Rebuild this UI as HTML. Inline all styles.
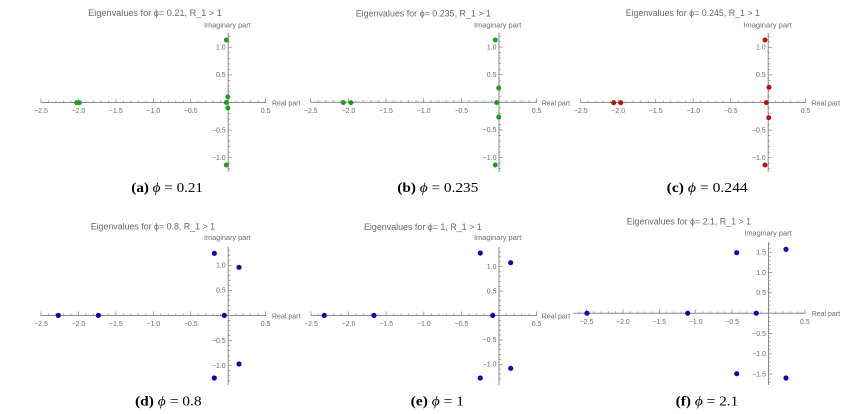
<!DOCTYPE html>
<html><head><meta charset="utf-8"><style>
html,body{margin:0;padding:0;background:#fff;}
svg{display:block;}
.ax{stroke:#8a8a8a;stroke-width:1;fill:none;}
.tk{stroke:#8a8a8a;fill:none;}
.lb{font-family:"Liberation Sans",sans-serif;font-size:7px;fill:#6a6a6a;}
.tt{font-family:"Liberation Sans","DejaVu Sans",sans-serif;font-size:9px;fill:#666;}
.cap{font-family:"Liberation Serif","DejaVu Serif",serif;font-size:14px;fill:#000;}
.g{fill:#1f9a22;} .r{fill:#b31212;} .b{fill:#0a0c9e;}
</style></head><body>
<svg width="851" height="414" viewBox="0 0 851 414" xmlns="http://www.w3.org/2000/svg">

<!-- Panel a -->
<path class="ax" d="M40.95,102.5H266M228.2,33V172"/>
<line class="tk" x1="40.6" y1="101.5" x2="266.3" y2="101.5" stroke-width="2" stroke-dasharray="0.7 6.79"/>
<line class="tk" x1="40.6" y1="100.5" x2="266.3" y2="100.5" stroke-width="4" stroke-dasharray="0.7 36.75"/>
<line class="tk" x1="229.2" y1="35.9" x2="229.2" y2="169.5" stroke-width="2" stroke-dasharray="0.7 4.82"/>
<line class="tk" x1="230.2" y1="46.95" x2="230.2" y2="158.5" stroke-width="4" stroke-dasharray="0.7 26.9"/>
<g class="lb" text-anchor="middle">
<text x="40.95" y="113.2">−2.5</text><text x="78.4" y="113.2">−2.0</text><text x="115.85" y="113.2">−1.5</text><text x="153.3" y="113.2">−1.0</text><text x="190.75" y="113.2">−0.5</text><text x="265.65" y="113.2">0.5</text>
</g>
<g class="lb" text-anchor="end">
<text x="225.7" y="49.6">1.0</text><text x="225.7" y="77.2">0.5</text><text x="225.7" y="132.4">−0.5</text><text x="225.7" y="160">−1.0</text>
</g>
<text class="lb" x="272" y="105.5">Real part</text>
<text class="lb" x="204" y="27.5" textLength="46.7" lengthAdjust="spacingAndGlyphs">Imaginary part</text>
<text class="tt" x="88.2" y="16.2" textLength="133.7" lengthAdjust="spacingAndGlyphs">Eigenvalues for ϕ= 0.21, R_1 &gt; 1</text>
<g class="g"><circle cx="76.7" cy="102.7" r="2.5"/><circle cx="79.3" cy="102.7" r="2.5"/><circle cx="226.3" cy="40" r="2.5"/><circle cx="227.8" cy="96.9" r="2.5"/><circle cx="226.3" cy="102.5" r="2.5"/><circle cx="227.8" cy="108" r="2.5"/><circle cx="226.3" cy="165" r="2.5"/></g>
<text class="cap" x="131.3" y="192.2" textLength="71.7" lengthAdjust="spacingAndGlyphs"><tspan font-weight="bold">(a)</tspan> <tspan font-style="italic">ϕ</tspan> = 0.21</text>

<!-- Panel b -->
<path class="ax" d="M310.67,102.3H537M499,33V172"/>
<line class="tk" x1="310.3" y1="101.3" x2="537.2" y2="101.3" stroke-width="2" stroke-dasharray="0.7 6.83"/>
<line class="tk" x1="310.3" y1="100.3" x2="537.2" y2="100.3" stroke-width="4" stroke-dasharray="0.7 36.97"/>
<line class="tk" x1="500" y1="35.7" x2="500" y2="169.3" stroke-width="2" stroke-dasharray="0.7 4.82"/>
<line class="tk" x1="501" y1="46.75" x2="501" y2="158.3" stroke-width="4" stroke-dasharray="0.7 26.9"/>
<g class="lb" text-anchor="middle">
<text x="310.67" y="113">−2.5</text><text x="348.34" y="113">−2.0</text><text x="386" y="113">−1.5</text><text x="423.67" y="113">−1.0</text><text x="461.3" y="113">−0.5</text><text x="536.67" y="113">0.5</text>
</g>
<g class="lb" text-anchor="end">
<text x="496.5" y="49.4">1.0</text><text x="496.5" y="77">0.5</text><text x="496.5" y="132.2">−0.5</text><text x="496.5" y="159.8">−1.0</text>
</g>
<text class="lb" x="541.7" y="105.3">Real part</text>
<text class="lb" x="474" y="27.5" textLength="47.3" lengthAdjust="spacingAndGlyphs">Imaginary part</text>
<text class="tt" x="355.7" y="16.4" textLength="135.3" lengthAdjust="spacingAndGlyphs">Eigenvalues for ϕ= 0.235, R_1 &gt; 1</text>
<g class="g"><circle cx="343.3" cy="102.6" r="2.5"/><circle cx="351" cy="102.6" r="2.5"/><circle cx="495.3" cy="40" r="2.5"/><circle cx="498.7" cy="88" r="2.5"/><circle cx="496.7" cy="102.6" r="2.5"/><circle cx="498.7" cy="117" r="2.5"/><circle cx="495.3" cy="165" r="2.5"/></g>
<text class="cap" x="397.3" y="192" textLength="81" lengthAdjust="spacingAndGlyphs"><tspan font-weight="bold">(b)</tspan> <tspan font-style="italic">ϕ</tspan> = 0.235</text>

<!-- Panel c -->
<path class="ax" d="M580.7,102.5H806M768.2,33V172"/>
<line class="tk" x1="580.35" y1="101.5" x2="806.2" y2="101.5" stroke-width="2" stroke-dasharray="0.7 6.8"/>
<line class="tk" x1="580.35" y1="100.5" x2="806.2" y2="100.5" stroke-width="4" stroke-dasharray="0.7 36.8"/>
<line class="tk" x1="769.2" y1="35.9" x2="769.2" y2="169.5" stroke-width="2" stroke-dasharray="0.7 4.82"/>
<line class="tk" x1="770.2" y1="46.95" x2="770.2" y2="158.5" stroke-width="4" stroke-dasharray="0.7 26.9"/>
<g class="lb" text-anchor="middle">
<text x="580.7" y="113.2">−2.5</text><text x="618.2" y="113.2">−2.0</text><text x="655.7" y="113.2">−1.5</text><text x="693.2" y="113.2">−1.0</text><text x="730.7" y="113.2">−0.5</text><text x="805.7" y="113.2">0.5</text>
</g>
<g class="lb" text-anchor="end">
<text x="765.7" y="49.6">1.0</text><text x="765.7" y="77.2">0.5</text><text x="765.7" y="132.4">−0.5</text><text x="765.7" y="160">−1.0</text>
</g>
<text class="lb" x="811.7" y="105.5">Real part</text>
<text class="lb" x="743.3" y="27.5" textLength="48.4" lengthAdjust="spacingAndGlyphs">Imaginary part</text>
<text class="tt" x="625.7" y="16.2" textLength="134.3" lengthAdjust="spacingAndGlyphs">Eigenvalues for ϕ= 0.245, R_1 &gt; 1</text>
<g class="r"><circle cx="613.7" cy="102.7" r="2.5"/><circle cx="620.7" cy="102.7" r="2.5"/><circle cx="765" cy="40" r="2.5"/><circle cx="769" cy="87.3" r="2.5"/><circle cx="766.3" cy="102.6" r="2.5"/><circle cx="768.7" cy="117.7" r="2.5"/><circle cx="765" cy="165" r="2.5"/></g>
<text class="cap" x="666.7" y="192" textLength="81" lengthAdjust="spacingAndGlyphs"><tspan font-weight="bold">(c)</tspan> <tspan font-style="italic">ϕ</tspan> = 0.244</text>

<!-- Panel d -->
<path class="ax" d="M40.95,315.5H266M228.2,246.7V385"/>
<line class="tk" x1="40.6" y1="314.5" x2="266.3" y2="314.5" stroke-width="2" stroke-dasharray="0.7 6.79"/>
<line class="tk" x1="40.6" y1="313.5" x2="266.3" y2="313.5" stroke-width="4" stroke-dasharray="0.7 36.75"/>
<line class="tk" x1="229.2" y1="249.9" x2="229.2" y2="381.2" stroke-width="2" stroke-dasharray="0.7 4.32"/>
<line class="tk" x1="230.2" y1="264.95" x2="230.2" y2="366.2" stroke-width="4" stroke-dasharray="0.7 24.4"/>
<g class="lb" text-anchor="middle">
<text x="40.95" y="326.2">−2.5</text><text x="78.4" y="326.2">−2.0</text><text x="115.85" y="326.2">−1.5</text><text x="153.3" y="326.2">−1.0</text><text x="190.75" y="326.2">−0.5</text><text x="265.65" y="326.2">0.5</text>
</g>
<g class="lb" text-anchor="end">
<text x="225.7" y="267.6">1.0</text><text x="225.7" y="292.7">0.5</text><text x="225.7" y="342.9">−0.5</text><text x="225.7" y="368">−1.0</text>
</g>
<text class="lb" x="272" y="318.6">Real part</text>
<text class="lb" x="204" y="240.2" textLength="46.7" lengthAdjust="spacingAndGlyphs">Imaginary part</text>
<text class="tt" x="90.7" y="229.4" textLength="124.3" lengthAdjust="spacingAndGlyphs">Eigenvalues for ϕ= 0.8, R_1 &gt; 1</text>
<g class="b"><circle cx="214.3" cy="253.3" r="2.6"/><circle cx="239" cy="267.3" r="2.6"/><circle cx="58.3" cy="315.4" r="2.6"/><circle cx="98.3" cy="315.4" r="2.6"/><circle cx="224.3" cy="315.4" r="2.6"/><circle cx="239" cy="364" r="2.6"/><circle cx="214.3" cy="378" r="2.6"/></g>
<text class="cap" x="135" y="405.3" textLength="66.7" lengthAdjust="spacingAndGlyphs"><tspan font-weight="bold">(d)</tspan> <tspan font-style="italic">ϕ</tspan> = 0.8</text>

<!-- Panel e -->
<path class="ax" d="M311,315.5H537M499,246.7V385"/>
<line class="tk" x1="310.65" y1="314.5" x2="537" y2="314.5" stroke-width="2" stroke-dasharray="0.7 6.82"/>
<line class="tk" x1="310.65" y1="313.5" x2="537" y2="313.5" stroke-width="4" stroke-dasharray="0.7 36.9"/>
<line class="tk" x1="500" y1="251.7" x2="500" y2="379.3" stroke-width="2" stroke-dasharray="0.7 4.18"/>
<line class="tk" x1="501" y1="266.35" x2="501" y2="364.7" stroke-width="4" stroke-dasharray="0.7 23.7"/>
<g class="lb" text-anchor="middle">
<text x="311" y="326.2">−2.5</text><text x="348.6" y="326.2">−2.0</text><text x="386.2" y="326.2">−1.5</text><text x="423.8" y="326.2">−1.0</text><text x="461.4" y="326.2">−0.5</text><text x="536.6" y="326.2">0.5</text>
</g>
<g class="lb" text-anchor="end">
<text x="496.5" y="269">1.0</text><text x="496.5" y="293.4">0.5</text><text x="496.5" y="342.2">−0.5</text><text x="496.5" y="366.6">−1.0</text>
</g>
<text class="lb" x="541.7" y="318.6">Real part</text>
<text class="lb" x="474" y="240.2" textLength="47.3" lengthAdjust="spacingAndGlyphs">Imaginary part</text>
<text class="tt" x="364" y="230" textLength="117.7" lengthAdjust="spacingAndGlyphs">Eigenvalues for ϕ= 1, R_1 &gt; 1</text>
<g class="b"><circle cx="480.3" cy="253" r="2.6"/><circle cx="510.7" cy="262.7" r="2.6"/><circle cx="324.3" cy="315.4" r="2.6"/><circle cx="374" cy="315.4" r="2.6"/><circle cx="492.7" cy="315.4" r="2.6"/><circle cx="510.7" cy="368.3" r="2.6"/><circle cx="480.3" cy="378" r="2.6"/></g>
<text class="cap" x="410.7" y="405.3" textLength="53.3" lengthAdjust="spacingAndGlyphs"><tspan font-weight="bold">(e)</tspan> <tspan font-style="italic">ϕ</tspan> = 1</text>

<!-- Panel f -->
<path class="ax" d="M573.3,313.2H805.7M768.5,242.3V385"/>
<line class="tk" x1="578.87" y1="312.2" x2="806" y2="312.2" stroke-width="2" stroke-dasharray="0.7 6.58"/>
<line class="tk" x1="586.15" y1="311.2" x2="806" y2="311.2" stroke-width="4" stroke-dasharray="0.7 35.7"/>
<line class="tk" x1="769.5" y1="243.85" x2="769.5" y2="382.6" stroke-width="2" stroke-dasharray="0.7 3.36"/>
<line class="tk" x1="770.5" y1="251.95" x2="770.5" y2="374.5" stroke-width="4" stroke-dasharray="0.7 19.6"/>
<g class="lb" text-anchor="middle">
<text x="586.5" y="323.9">−2.5</text><text x="622.9" y="323.9">−2.0</text><text x="659.3" y="323.9">−1.5</text><text x="695.7" y="323.9">−1.0</text><text x="732.1" y="323.9">−0.5</text><text x="804.9" y="323.9">0.5</text>
</g>
<g class="lb" text-anchor="end">
<text x="766" y="254.6">1.5</text><text x="766" y="274.9">1.0</text><text x="766" y="295.2">0.5</text><text x="766" y="335.8">−0.5</text><text x="766" y="356.1">−1.0</text><text x="766" y="376.4">−1.5</text>
</g>
<text class="lb" x="811.7" y="316.2">Real part</text>
<text class="lb" x="744.3" y="235.5" textLength="47.4" lengthAdjust="spacingAndGlyphs">Imaginary part</text>
<text class="tt" x="626.7" y="224.4" textLength="124.3" lengthAdjust="spacingAndGlyphs">Eigenvalues for ϕ= 2.1, R_1 &gt; 1</text>
<g class="b"><circle cx="736.7" cy="252.7" r="2.6"/><circle cx="786" cy="249.3" r="2.6"/><circle cx="587" cy="313.2" r="2.6"/><circle cx="687.7" cy="313.2" r="2.6"/><circle cx="756.3" cy="313.2" r="2.6"/><circle cx="786" cy="378" r="2.6"/><circle cx="736.7" cy="373.7" r="2.6"/></g>
<text class="cap" x="675.7" y="405.3" textLength="62.6" lengthAdjust="spacingAndGlyphs"><tspan font-weight="bold">(f)</tspan> <tspan font-style="italic">ϕ</tspan> = 2.1</text>

</svg>
</body></html>
